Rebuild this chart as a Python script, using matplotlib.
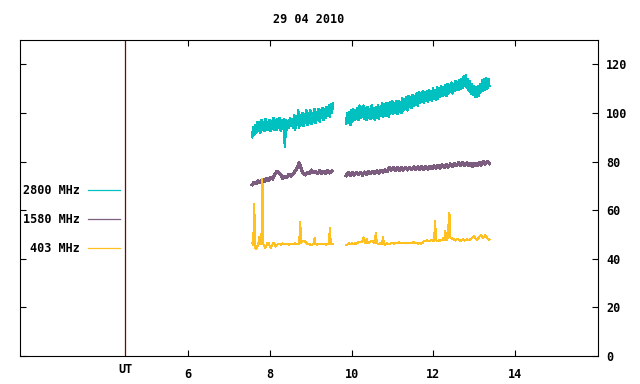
import numpy as np
import matplotlib
matplotlib.use("Agg")
import matplotlib.pyplot as plt
from matplotlib import transforms

# ---------------- data ----------------
title = "29 04 2010"
labels = ["2800 MHz", "1580 MHz", "403 MHz"]
colors = ["#00c0c0", "#7c5d80", "#ffc020"]

x_ticks = [6, 8, 10, 12, 14]
y_ticks = [0, 20, 40, 60, 80, 100, 120]
ut_pos = 4.46

# time grids (UT hours) for each recorded segment
seg1_start, seg2_start = 7.57, 9.87
fine_step, coarse_step = 0.025, 0.05

f2800_seg1 = [90, 94, 91, 95, 92, 96, 92.5, 96,
              92, 97, 93, 96, 92.5, 97.5, 93, 96,
              93, 97, 92.5, 96.5, 93.5, 98, 93, 97,
              93, 97.5, 94, 98, 92.5, 97, 93.5, 97.5,
              86, 97, 93, 96.5, 94, 98, 94.5, 97.5,
              94, 99, 93, 98.5, 95, 101, 94, 99,
              95, 100, 94.5, 99.5, 96, 101, 95, 100,
              96, 101, 95.5, 100, 96.5, 101.5, 96, 100.5,
              97, 101.5, 96.5, 101, 98, 102, 97, 101.5,
              98, 102.5, 99, 103, 98.5, 103.5, 100, 104]
f2800_seg2 = [95.5, 100, 96, 100.5, 95, 101, 96.5, 101.5, 97, 101,
              97.5, 102, 97, 103, 98, 102.5, 98.5, 103, 97.5, 102,
              97, 102.5, 98, 101.5, 97.5, 103, 98, 102, 97, 102.5,
              98, 103, 97.5, 102.5, 99, 104, 98.5, 103.5, 99, 104,
              99, 104, 98.5, 104.5, 100, 105, 99.5, 104, 100, 105,
              99.5, 105, 100.5, 104.5, 100, 106, 101, 105.5, 101.5, 106.5,
              101, 107, 102.5, 106.5, 102, 107.5, 103, 107, 103.5, 108,
              103, 108.5, 104, 108, 104.5, 109, 104, 108.5, 105, 109,
              104.5, 109.5, 105.5, 109, 105, 110, 106, 109.5, 105.5, 110.5,
              106, 110, 106.5, 111, 107, 110.5, 107.5, 111.5, 107, 112,
              108, 111.5, 108.5, 112.5, 108, 112, 109, 113, 109.5, 112.5,
              109.5, 113.5, 110, 114, 110.5, 115, 111, 115.5, 110.5, 114,
              109, 113, 108, 112, 107.5, 111, 106.5, 110.5, 106.5, 111,
              107, 112, 108.5, 113.5, 109, 114, 109.5, 114.5, 110, 114, 111]

f1580_seg1 = [70.5, 71.5, 71, 72, 71.3, 72.5, 71.8, 73, 72.3, 73.5,
              72.8, 74.5, 76, 75.5, 74.5, 73, 74, 73.5, 74.8, 74,
              75, 76, 77.5, 79.5, 77, 75, 74.5, 75.5, 75, 76.5,
              75.5, 76, 75, 76.2, 75, 76, 75.2, 76.3, 75.3, 76]
f1580_seg2 = [74.2, 75.4, 74.3, 75.5, 74.4, 75.6, 74.5, 75.6, 74.4, 75.7,
              74.8, 75.9, 75, 76, 75.1, 76.1, 75.2, 76.3, 75.6, 76.5,
              75.8, 77.5, 76.5, 77.6, 76.3, 77.5, 76.4, 77.6, 76.5, 77.7,
              76.5, 77.7, 76.6, 77.8, 76.6, 77.8, 76.7, 77.9, 76.8, 78,
              76.9, 78.1, 77, 78.3, 77.2, 78.5, 77.3, 78.6, 77.5, 78.8,
              77.7, 79, 78, 79.2, 78.2, 79.5, 78.3, 79.6, 78.4, 79.4,
              78.2, 79.3, 78, 79.2, 78.3, 79.6, 78.6, 80, 78.9, 80.1, 79.2]

f403_seg1 = [46.5, 45.5, 62.7, 44.5, 44, 45, 46, 49, 46, 46.5,
             73, 46, 45, 44.5, 45.5, 46.5, 46.5, 45.5, 44.5, 45,
             46, 46.5, 46, 45, 45.5, 46, 46.3, 46, 45.8, 46.1,
             46.3, 46, 45.9, 46.2, 46, 46.1, 45.8, 46, 46.2, 46,
             45.9, 46.1, 46.3, 46, 46.2, 45.9, 46, 55.2, 46.5, 47,
             47.5, 47.3, 47, 46.5, 46.2, 46, 46, 45.8, 45.6, 45.9,
             46, 48.5, 46, 45.8, 46, 46.1, 45.9, 46, 46.2, 45.9,
             46, 46.1, 45.8, 46, 46.1, 46, 52.6, 46, 46.1, 46]
f403_seg2 = [45.6, 45.8, 46.2, 46.3, 46, 46.2, 46.4, 46.1, 46.3, 46.5,
             46.2, 46.6, 46.8, 47, 46.7, 47.2, 47, 48.8, 46.8, 46.5,
             48.2, 46.6, 46.3, 46.8, 47.2, 47.5, 47.3, 46.8, 46.5, 50.7,
             46.6, 46.2, 46, 46.3, 46.1, 45.9, 48.8, 46, 45.8, 46.1,
             46.3, 46.1, 45.9, 46.2, 46.4, 46.3, 46.6, 46.2, 46.4, 46.6,
             46.3, 46.5, 46.8, 46.4, 46.6, 46.5, 46.3, 46.7, 46.5, 46.4,
             46.6, 46.4, 46.7, 46.5, 46.3, 46.6, 46.8, 46.5, 46.3, 46.6,
             46.2, 46.4, 46.5, 46.1, 46.3, 46.6, 47.3, 47.5, 47.2, 47.6,
             47.4, 47.5, 47.3, 47.6, 47.8, 47.5, 47.4, 55.6, 47.6, 47.3,
             47.5, 47.7, 47.4, 47.6, 47.8, 48.5, 47.6, 51.5, 47.8, 47.6,
             53.1, 58.9, 48.8, 48.5, 48.2, 48, 47.8, 47.5, 47.9, 48.1,
             47.9, 47.6, 47.4, 47.8, 48, 47.7, 47.5, 47.8, 48.1, 47.9,
             47.6, 47.9, 48.2, 48.5, 48.8, 49.3, 48.7, 48.2, 47.9, 48.3,
             48.8, 49.5, 49.8, 49.2, 48.5, 48.9, 49.6, 49.1, 48.4, 48.2, 47.8]


def times(start, step, n):
    return start + step * np.arange(n)


series = [
    (labels[0], colors[0], 1.1, [(seg1_start, fine_step, f2800_seg1), (seg2_start, fine_step, f2800_seg2)]),
    (labels[1], colors[1], 1.6, [(seg1_start, coarse_step, f1580_seg1), (seg2_start, coarse_step, f1580_seg2)]),
    (labels[2], colors[2], 0.75, [(seg1_start, fine_step, f403_seg1), (seg2_start, fine_step, f403_seg2)]),
]

# ---------------- figure ----------------
fig = plt.figure(figsize=(6.4, 3.84), dpi=100)
ax = fig.add_axes([20 / 640, 28 / 384, 578 / 640, 316 / 384])

font = dict(family="DejaVu Sans Mono", weight="bold", size=8.5)

handles = []
for lab, col, lw, segs in series:
    first = True
    for start, step, vals in segs:
        t = times(start, step, len(vals))
        ln, = ax.plot(t, vals, color=col, lw=lw, antialiased=False,
                      label=lab if first else None)
        if first:
            handles.append(ln)
        first = False

ax.axvline(ut_pos, color="#7f0000", lw=0.9)

ax.set_xlim(1.89, 16.03)
ax.set_ylim(0, 130)

ax.set_xticks(x_ticks)
ax.set_xticklabels([str(v) for v in x_ticks], **font)
ax.set_yticks(y_ticks)
ax.set_yticklabels([str(v) for v in y_ticks], **font)
ax.tick_params(axis="x", direction="in", length=4, width=0.8, top=True, bottom=True, pad=8.5)
ax.tick_params(axis="y", direction="in", length=4, width=0.8, left=True, right=True,
               labelleft=False, labelright=True, pad=6)
for sp in ax.spines.values():
    sp.set_linewidth(0.8)

trans = transforms.blended_transform_factory(ax.transData, ax.transAxes)
ax.text(ut_pos, -0.021, "UT", transform=trans, ha="center", va="top", **font)

ax.set_title(title, pad=12.5, **font)

leg = ax.legend(handles=handles, loc="upper right", bbox_to_anchor=(0.173, 0.545),
                frameon=False, markerfirst=False, borderpad=0, borderaxespad=0,
                labelspacing=1.36, handlelength=2.7, handletextpad=0.68,
                prop=dict(family="DejaVu Sans Mono", weight="bold", size=8.5))
for h in leg.get_lines():
    h.set_linewidth(0.9)
    h.set_antialiased(True)

fig.savefig("out.png", dpi=100)
